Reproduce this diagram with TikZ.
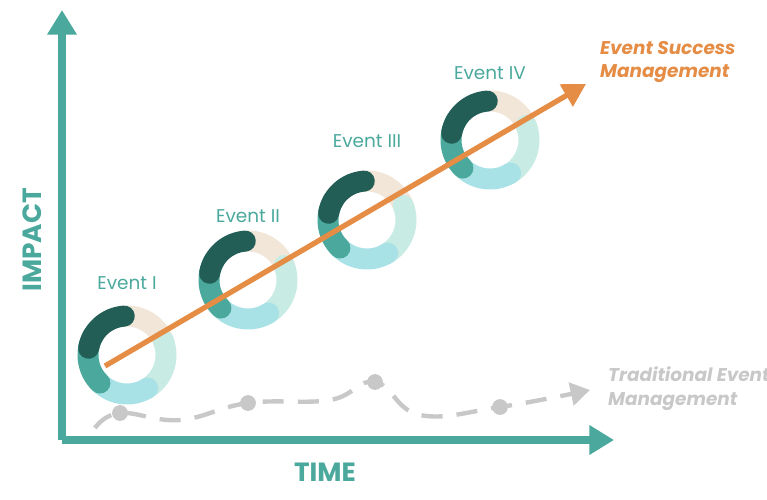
\documentclass[tikz,border=0pt]{standalone}
\usepackage{fontspec}
\setmainfont{Poppins}
\usetikzlibrary{arrows.meta,positioning}
\definecolor{axisteal}{HTML}{4AA89C}
\definecolor{ringdark}{HTML}{225E56}
\definecolor{ringteal}{HTML}{4AA89C}
\definecolor{ringcyan}{HTML}{A8E2E6}
\definecolor{ringmint}{HTML}{C8EBE3}
\definecolor{ringbeige}{HTML}{F2E6D8}
\definecolor{succorange}{HTML}{E58C45}
\definecolor{tradgray}{HTML}{C8C8C8}
\newcommand{\eventring}[2]{%
  \begin{scope}[shift={(#1,#2)}, yscale=-1, line width=0.42cm, line cap=round]
    \draw[ringbeige] (100:39) arc (100:18:39);
    \draw[ringmint] (22:39) arc (22:-62:39);
    \draw[ringcyan] (-58:39) arc (-58:-138:39);
    \draw[ringteal] (-134:39) arc (-134:-212:39);
    \draw[ringdark] (170:39) arc (170:94:39);
  \end{scope}}
\begin{document}
\begin{tikzpicture}[x=0.02cm, y=-0.02cm,
  axis/.style={axisteal, line width=4pt, -{Triangle[length=14pt,width=16pt]}},
  eventlabel/.style={text=axisteal, font=\fontsize{10.5}{13}\selectfont},
  dot/.style={circle, fill=tradgray, minimum size=9pt, inner sep=0pt}]
  \useasboundingbox (0,0) rectangle (767,500);

  % axes
  \coordinate (origin) at (62,440);
  \coordinate (ytop) at (62,10);
  \coordinate (xend) at (614,440);
  \draw[axis] (origin) -- (ytop);
  \draw[axis] (origin) -- (xend);
  \node[rotate=90, text=axisteal, font=\bfseries\fontsize{15}{18}\selectfont] (impact) at (32,240) {IMPACT};
  \node[text=axisteal, font=\bfseries\fontsize{15}{18}\selectfont] (time) at (325,472) {TIME};

  % traditional curve
  \node[dot] (t1) at (120,413) {};
  \node[dot] (t2) at (248,403) {};
  \node[dot] (t3) at (375,382) {};
  \node[dot] (t4) at (500,407) {};
  \draw[tradgray, line width=2.5pt, dash pattern=on 12pt off 8pt, -{Triangle[length=11pt,width=13pt]}]
    plot[smooth, tension=0.7] coordinates {(95,428) (120,413) (180,420) (248,403) (330,400) (375,382) (420,415) (500,407) (590,390)};
  \node[text=tradgray, font=\bfseries\itshape\fontsize{10.5}{13.5}\selectfont, align=left, anchor=west] (tradlabel) at (602,389) {Traditional Event\\Management};

  % rings
  \eventring{127}{355}
  \eventring{248}{280}
  \eventring{367}{220}
  \eventring{490}{140}
  \node[eventlabel] (e1) at (127,283) {Event I};
  \node[eventlabel] (e2) at (248,216) {Event II};
  \node[eventlabel] (e3) at (367,141) {Event III};
  \node[eventlabel] (e4) at (490,73) {Event IV};

  % success arrow
  \coordinate (sstart) at (105,366);
  \coordinate (send) at (586,84);
  \draw[succorange, line width=3pt, -{Triangle[length=13pt,width=14pt]}] (sstart) -- (send);
  \node[text=succorange, font=\bfseries\itshape\fontsize{10.5}{13.5}\selectfont, align=left, anchor=west] (succlabel) at (594,62) {Event Success\\Management};
\end{tikzpicture}
\end{document}
